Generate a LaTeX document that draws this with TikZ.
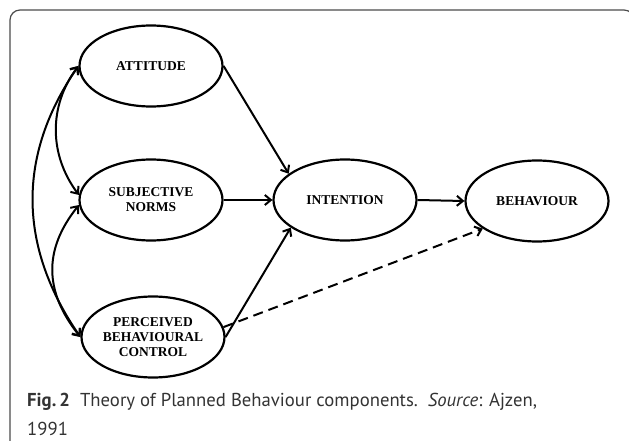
\documentclass[tikz,border=0pt]{standalone}
\usepackage{fontspec}
\setmainfont{Liberation Serif}
\newfontfamily\capfont{PT Sans}
\usetikzlibrary{shapes.geometric,arrows.meta}

\begin{document}
\begin{tikzpicture}[x=1pt,y=-1pt,
    comp/.style={ellipse, draw, line width=2.2pt, minimum width=143pt,
      minimum height=81pt, inner sep=0pt, align=center,
      font=\fontsize{13.5}{15}\selectfont\bfseries},
    link/.style={line width=2pt, -{Straight Barb[length=6pt,width=10pt]}},
    both/.style={line width=2pt,
      {Straight Barb[length=6pt,width=10pt]}-{Straight Barb[length=6pt,width=10pt]}}]
        \useasboundingbox (0,0) rectangle (629,441);
        \clip (0,0) rectangle (629,441);
        % Frame
        \draw[gray!60!black, line width=1.2pt, rounded corners=10pt] (10,10) rectangle (634,470);

        % Components
        \node[comp] (att) at (151,66) {ATTITUDE};
        \node[comp] (nor) at (151,200) {SUBJECTIVE\\NORMS};
        \node[comp] (per) at (153,337) {PERCEIVED\\BEHAVIOURAL\\CONTROL};
        \node[comp] (int) at (345,200) {INTENTION};
        \node[comp] (beh) at (537,201) {BEHAVIOUR};

        % Paths to intention and behaviour
        \draw[link] (att.east) -- (int.155);
        \draw[link] (nor.east) -- (int.west);
        \draw[link] (per.east) -- (int.207);
        \draw[link] (int.east) -- (beh.west);
        \draw[link, dash pattern=on 10pt off 6pt] (per.8) -- (beh.207);

        % Correlations
        \draw[both] (att.west) .. controls +(-30,40) and +(-30,-40) .. (nor.176);
        \draw[both] (att.west) .. controls +(-62,90) and +(-62,-90) .. (per.west);
        \draw[both] (nor.184) .. controls +(-36,45) and +(-36,-45) .. (per.west);

        % Caption
        \node[anchor=base west, inner sep=0pt, text=black!80,
          font=\capfont\fontsize{18.7}{20}\selectfont] (cap1) at (27,406)
          {\textbf{Fig.\,2}\ \ Theory of Planned Behaviour components.\ \ \textit{Source}: Ajzen,};
        \node[anchor=base west, inner sep=0pt, text=black!80,
          font=\capfont\fontsize{18.7}{20}\selectfont] (cap2) at (27,435) {1991};
\end{tikzpicture}
\end{document}
